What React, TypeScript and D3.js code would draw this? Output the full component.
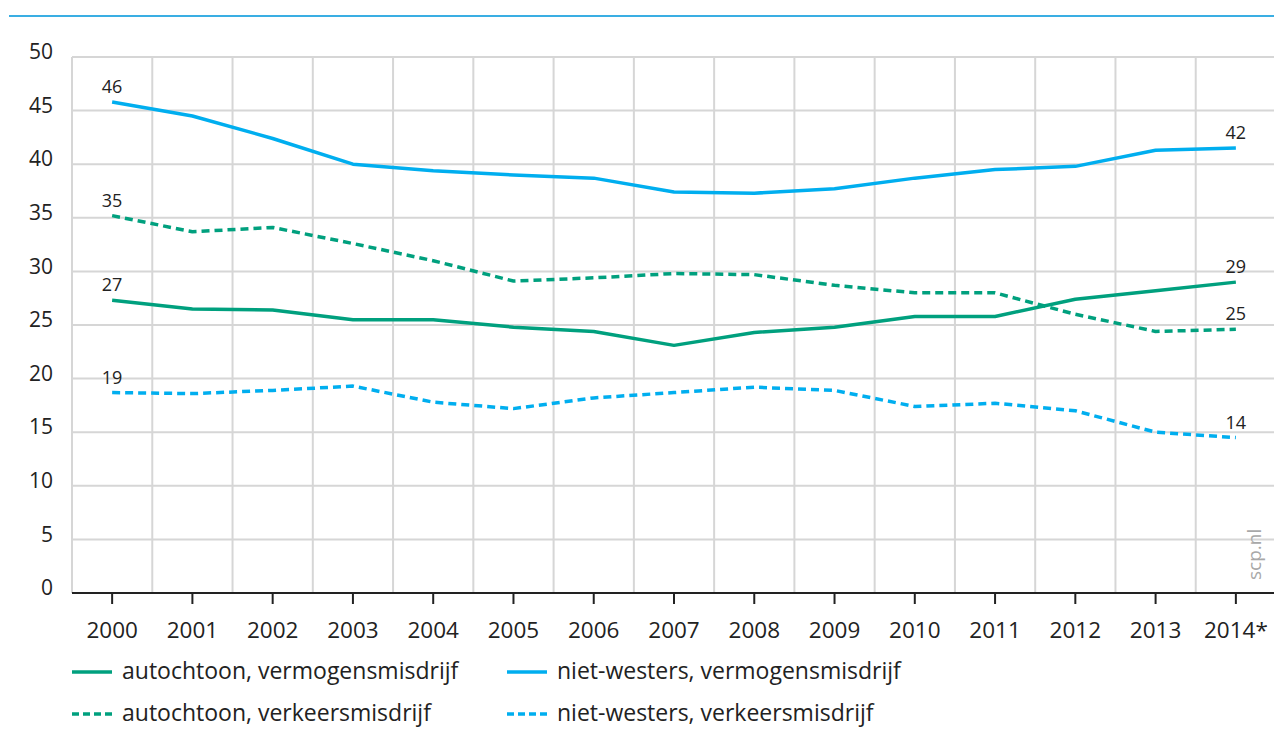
import * as d3 from "d3";

const WIDTH = 1274;
const HEIGHT = 751;
const MARGIN = { top: 57, right: -2, bottom: 158, left: 72 };

const YEARS = ["2000", "2001", "2002", "2003", "2004", "2005", "2006", "2007", "2008", "2009", "2010", "2011", "2012", "2013", "2014*"];
const Y_TICKS = [0, 5, 10, 15, 20, 25, 30, 35, 40, 45, 50];

const autochtoonVermogen = [27.3, 26.5, 26.4, 25.5, 25.5, 24.8, 24.4, 23.1, 24.3, 24.8, 25.8, 25.8, 27.4, 28.2, 29.0];
const autochtoonVerkeer = [35.2, 33.7, 34.1, 32.6, 31.0, 29.1, 29.4, 29.8, 29.7, 28.7, 28.0, 28.0, 26.0, 24.4, 24.6];
const nietWestersVermogen = [45.8, 44.5, 42.4, 40.0, 39.4, 39.0, 38.7, 37.4, 37.3, 37.7, 38.7, 39.5, 39.8, 41.3, 41.5];
const nietWestersVerkeer = [18.7, 18.6, 18.9, 19.3, 17.8, 17.2, 18.2, 18.7, 19.2, 18.9, 17.4, 17.7, 17.0, 15.0, 14.5];

const FIRST_LABELS = ["27", "35", "46", "19"];
const LAST_LABELS = ["29", "25", "42", "14"];

const GREEN = "#00a07e";
const BLUE = "#00aeef";
const FONT = "'Open Sans', 'Noto Sans', sans-serif";

const SERIES = [
  { name: "autochtoon, vermogensmisdrijf", values: autochtoonVermogen, color: GREEN, dashed: false },
  { name: "autochtoon, verkeersmisdrijf", values: autochtoonVerkeer, color: GREEN, dashed: true },
  { name: "niet-westers, vermogensmisdrijf", values: nietWestersVermogen, color: BLUE, dashed: false },
  { name: "niet-westers, verkeersmisdrijf", values: nietWestersVerkeer, color: BLUE, dashed: true },
];

export default function App() {
  const boundsWidth = WIDTH - MARGIN.left - MARGIN.right;
  const boundsHeight = HEIGHT - MARGIN.top - MARGIN.bottom;

  const xBand = d3.scaleBand<string>().domain(YEARS).range([0, boundsWidth]);
  const xScale = (d: string) => (xBand(d) ?? 0) + xBand.bandwidth() / 2;
  const yScale = d3.scaleLinear().domain([0, 50]).range([boundsHeight, 0]);

  const lineGen = d3
    .line<number>()
    .x((_, i) => xScale(YEARS[i]))
    .y((d) => yScale(d));

  const bandEdges = YEARS.map((y) => xBand(y) ?? 0).concat([boundsWidth]);
  const last = YEARS.length - 1;

  return (
    <div style={{ position: "absolute", left: 0, top: 0 }}>
      <svg width={WIDTH} height={HEIGHT} style={{ display: "block", fontFamily: FONT }}>
        <rect width={WIDTH} height={HEIGHT} fill="#fff" />
        <line x1={9} x2={WIDTH} y1={16} y2={16} stroke="#3aaee3" strokeWidth={2} />

        <g transform={`translate(${MARGIN.left},${MARGIN.top})`}>
          {/* grid */}
          {Y_TICKS.filter((t) => t > 0).map((t) => (
            <line key={`h${t}`} x1={0} x2={boundsWidth} y1={yScale(t)} y2={yScale(t)} stroke="#d6d6d6" strokeWidth={2} />
          ))}
          {bandEdges.map((x, i) => (
            <line key={`v${i}`} x1={x} x2={x} y1={0} y2={boundsHeight} stroke="#d6d6d6" strokeWidth={2} />
          ))}

          {/* y labels */}
          {Y_TICKS.map((t) => (
            <text key={`yl${t}`} x={-19} y={yScale(t)} dy="0.1em" textAnchor="end" fontSize={21} fill="#222">
              {t}
            </text>
          ))}

          {/* x axis */}
          <line x1={0} x2={boundsWidth} y1={boundsHeight} y2={boundsHeight} stroke="#222" strokeWidth={2} />
          {YEARS.map((y) => (
            <g key={y} transform={`translate(${xScale(y)},${boundsHeight})`}>
              <line y1={0} y2={11} stroke="#222" strokeWidth={2} />
              <text y={45} textAnchor="middle" fontSize={22.5} fill="#222">
                {y}
              </text>
            </g>
          ))}

          {/* lines */}
          {SERIES.map((s) => (
            <path
              key={s.name}
              d={lineGen(s.values) ?? ""}
              fill="none"
              stroke={s.color}
              strokeWidth={3.5}
              strokeDasharray={s.dashed ? "8,5" : undefined}
              strokeLinejoin="round"
            />
          ))}

          {/* end labels */}
          {SERIES.map((s, i) => (
            <g key={`lab${s.name}`}>
              <text x={xScale(YEARS[0])} y={yScale(s.values[0]) - 9} textAnchor="middle" fontSize={18} fill="#222">
                {FIRST_LABELS[i]}
              </text>
              <text x={xScale(YEARS[last])} y={yScale(s.values[last]) - 9} textAnchor="middle" fontSize={18} fill="#222">
                {LAST_LABELS[i]}
              </text>
            </g>
          ))}

          <text
            transform={`translate(${boundsWidth - 15},${boundsHeight - 13}) rotate(-90)`}
            fontSize={19}
            fill="#a8a8a8"
          >
            scp.nl
          </text>
        </g>

        {/* legend */}
        {SERIES.map((s, i) => {
          const col = i < 2 ? 0 : 1;
          const row = i % 2;
          const x = col === 0 ? 72 : 507;
          const y = 672 + row * 42;
          return (
            <g key={`leg${s.name}`} transform={`translate(${x},${y})`}>
              <line x1={0} x2={40} y1={0} y2={0} stroke={s.color} strokeWidth={3.5} strokeDasharray={s.dashed ? "7,4" : undefined} />
              <text x={50} y={0} dy="0.32em" fontSize={23} fill="#222">
                {s.name}
              </text>
            </g>
          );
        })}
      </svg>
    </div>
  );
}
